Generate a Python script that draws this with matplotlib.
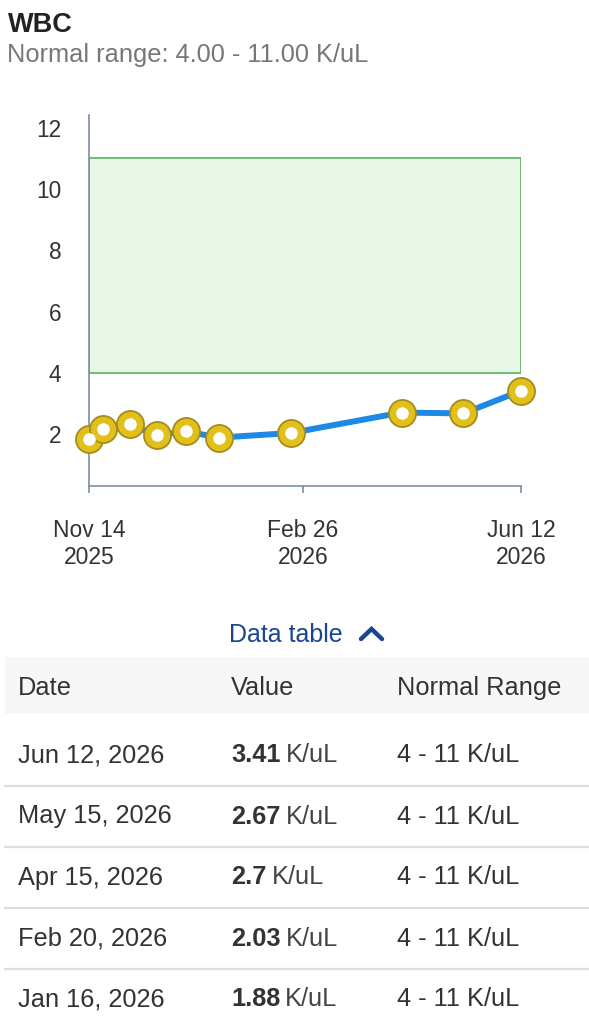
import matplotlib
matplotlib.use("Agg")
import matplotlib.pyplot as plt
import matplotlib.dates as mdates
from matplotlib.lines import Line2D
from matplotlib.patches import Rectangle
import datetime as dt

plt.rcParams['font.family'] = ['Liberation Sans', 'DejaVu Sans']

# ---- data ----
dates = ["2025-11-14", "2025-11-21", "2025-12-04", "2025-12-17", "2025-12-31",
         "2026-01-16", "2026-02-20", "2026-04-15", "2026-05-15", "2026-06-12"]
values = [1.84, 2.17, 2.31, 1.95, 2.09, 1.88, 2.03, 2.70, 2.67, 3.41]
normal_low, normal_high = 4, 11
y_ticks = [2, 4, 6, 8, 10, 12]
x_tick_dates = ["2025-11-14", "2026-02-26", "2026-06-12"]
x_tick_labels = ["Nov 14\n2025", "Feb 26\n2026", "Jun 12\n2026"]
title = "WBC"
subtitle = "Normal range: 4.00 - 11.00 K/uL"
unit = "K/uL"
table_headers = ["Date", "Value", "Normal Range"]
n_table_rows = 5

W, H = 589, 1023
fig = plt.figure(figsize=(W / 100, H / 100), dpi=100)
fig.patch.set_facecolor("white")


def fx(x):
    return x / W


def fy(y):
    return 1 - y / H


d = [dt.datetime.strptime(s, "%Y-%m-%d") for s in dates]
xn = mdates.date2num(d)

ax = fig.add_axes([fx(89), fy(486), (521 - 89) / W, (486 - 115) / H])
ax.set_xlim(xn[0], xn[-1])
ax.set_ylim(0.30, 12.42)

ax.axhspan(normal_low, normal_high, xmin=0, xmax=1, facecolor="#e7f6e7",
           edgecolor="#4fa95a", linewidth=1.1, zorder=1)

ax.plot(xn, values, color="#1e88e5", lw=4.3, zorder=3, solid_capstyle="round")
ax.plot(xn, values, linestyle="none", marker="o", ms=19.5, mfc="#e3bf1a",
        mec="#a38d1e", mew=1.3, zorder=4, clip_on=False)
ax.plot(xn, values, linestyle="none", marker="o", ms=9, mfc="white",
        mec="none", zorder=5, clip_on=False)

for s in ["top", "right"]:
    ax.spines[s].set_visible(False)
for s in ["left", "bottom"]:
    ax.spines[s].set_color("#7d8da0")
    ax.spines[s].set_linewidth(1.2)

ax.set_yticks(y_ticks)
ax.set_yticklabels([str(v) for v in y_ticks])
ax.tick_params(axis="y", length=0, pad=20, labelsize=16.3, labelcolor="#333333")
xt = mdates.date2num([dt.datetime.strptime(s, "%Y-%m-%d") for s in x_tick_dates])
ax.set_xticks(xt)
ax.set_xticklabels(x_tick_labels, linespacing=1.25)
ax.tick_params(axis="x", length=5, width=1.2, color="#7d8da0", pad=18.5,
               labelsize=16.5, labelcolor="#333333")
ax.set_facecolor("white")

# ---- header texts ----
fig.text(fx(8), fy(25), title, fontsize=19.5, fontweight="bold", color="#222222",
         va="center", ha="left")
fig.text(fx(7), fy(55), subtitle, fontsize=18.3, color="#777777",
         va="center", ha="left")

# ---- data table toggle ----
fig.text(fx(229), fy(635), "Data table", fontsize=18, color="#1a4690",
         va="center", ha="left")
fig.add_artist(Line2D([fx(361), fx(371.5), fx(382)], [fy(639), fy(629), fy(639)],
                      color="#1a4690", lw=3.2, solid_capstyle="round",
                      solid_joinstyle="miter", transform=fig.transFigure))

# ---- table ----
fig.add_artist(Rectangle((fx(5), fy(714)), (W - 5) / W, (714 - 657) / H,
                         facecolor="#f7f7f7", edgecolor="none",
                         transform=fig.transFigure, zorder=0))
col_x = [18, 231, 397]
fs_tab = 18.3
for cx, hd in zip(col_x, table_headers):
    fig.text(fx(cx), fy(688), hd, fontsize=fs_tab, color="#333333",
             va="center", ha="left")

row_y0, row_h = 755.5, 61
rows = list(zip(d, values))[::-1][:n_table_rows]
renderer = fig.canvas.get_renderer()
for i, (dd, v) in enumerate(rows):
    yc = row_y0 + i * row_h
    date_str = dd.strftime("%b ") + str(dd.day) + dd.strftime(", %Y")
    fig.text(fx(col_x[0]), fy(yc), date_str, fontsize=fs_tab, color="#333333",
             va="center", ha="left")
    tv = fig.text(fx(col_x[1]), fy(yc), f"{v:g}", fontsize=fs_tab, color="#333333",
                  fontweight="bold", va="center", ha="left")
    bb = tv.get_window_extent(renderer=renderer)
    fig.text(bb.x1 / W + fx(5), fy(yc), unit, fontsize=fs_tab, color="#444444",
             va="center", ha="left")
    fig.text(fx(col_x[2]), fy(yc), f"{normal_low} - {normal_high} {unit}",
             fontsize=fs_tab, color="#333333", va="center", ha="left")
    if i < n_table_rows - 1:
        ys = yc + 30.5
        fig.add_artist(Line2D([fx(5), 1], [fy(ys), fy(ys)], color="#dddddd",
                              lw=1.6, transform=fig.transFigure))

fig.savefig("out.png", dpi=100, facecolor="white")
